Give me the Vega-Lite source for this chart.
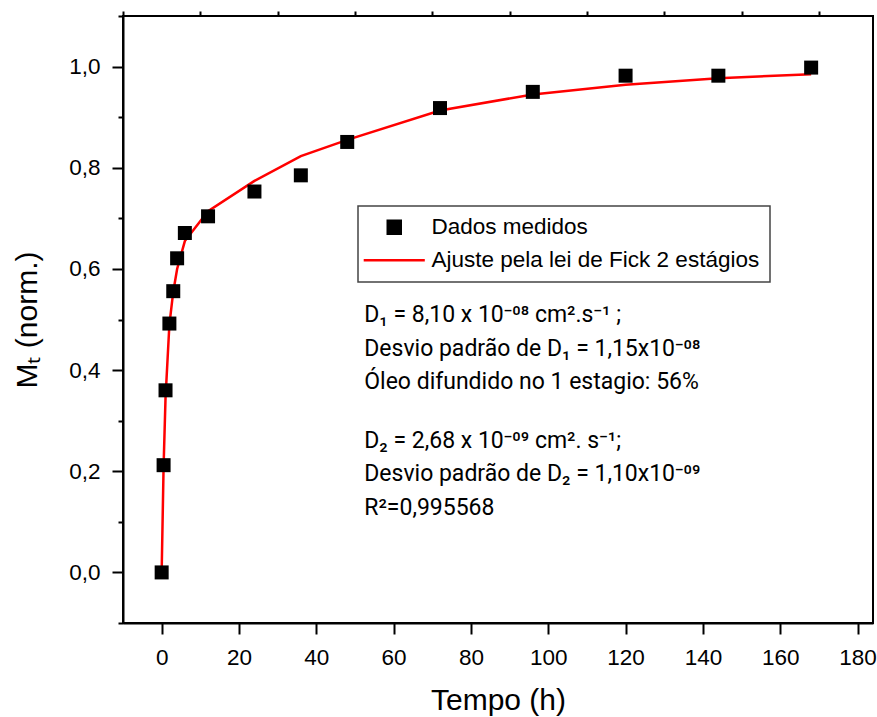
{
  "$schema": "https://vega.github.io/schema/vega-lite/v6.json",
  "width": 750,
  "height": 607,
  "autosize": {"type": "none"},
  "padding": {"left": 123, "top": 16, "right": 4, "bottom": 94},
  "background": "white",
  "config": {
    "font": "Liberation Sans",
    "view": {"stroke": "black", "strokeWidth": 2},
    "axis": {
      "grid": false,
      "domainColor": "black",
      "domainWidth": 2,
      "tickColor": "black",
      "tickWidth": 2,
      "labelColor": "black",
      "titleColor": "black",
      "labelFont": "Liberation Sans",
      "titleFont": "Liberation Sans",
      "labelFontSize": 22.5,
      "titleFontSize": 30,
      "titleFontWeight": "normal",
      "labelOverlap": false,
      "labelFlush": false
    }
  },
  "resolve": {"axis": {"x": "independent"}},
  "layer": [
    {
      "data": {
        "values": [
          {"t": 0, "m": 0, "serie": "Ajuste pela lei de Fick 2 estágios"},
          {"t": 0.5, "m": 0.21, "serie": "Ajuste pela lei de Fick 2 estágios"},
          {"t": 1, "m": 0.345, "serie": "Ajuste pela lei de Fick 2 estágios"},
          {"t": 2, "m": 0.49, "serie": "Ajuste pela lei de Fick 2 estágios"},
          {"t": 3, "m": 0.555, "serie": "Ajuste pela lei de Fick 2 estágios"},
          {"t": 4, "m": 0.6, "serie": "Ajuste pela lei de Fick 2 estágios"},
          {"t": 6, "m": 0.655, "serie": "Ajuste pela lei de Fick 2 estágios"},
          {"t": 12, "m": 0.714, "serie": "Ajuste pela lei de Fick 2 estágios"},
          {"t": 24, "m": 0.774, "serie": "Ajuste pela lei de Fick 2 estágios"},
          {"t": 36, "m": 0.823, "serie": "Ajuste pela lei de Fick 2 estágios"},
          {"t": 48, "m": 0.855, "serie": "Ajuste pela lei de Fick 2 estágios"},
          {"t": 72, "m": 0.913, "serie": "Ajuste pela lei de Fick 2 estágios"},
          {"t": 96, "m": 0.945, "serie": "Ajuste pela lei de Fick 2 estágios"},
          {"t": 120, "m": 0.964, "serie": "Ajuste pela lei de Fick 2 estágios"},
          {"t": 144, "m": 0.977, "serie": "Ajuste pela lei de Fick 2 estágios"},
          {"t": 168, "m": 0.985, "serie": "Ajuste pela lei de Fick 2 estágios"}
        ]
      },
      "mark": {"type": "line", "strokeWidth": 2.5},
      "encoding": {
        "x": {
          "field": "t",
          "type": "quantitative",
          "scale": {"domain": [-10, 184], "nice": false, "zero": false},
          "axis": {
            "title": "Tempo (h)",
            "values": [0, 20, 40, 60, 80, 100, 120, 140, 160, 180],
            "tickSize": 11,
            "labelPadding": 12,
            "titlePadding": 17
          }
        },
        "y": {
          "field": "m",
          "type": "quantitative",
          "scale": {"domain": [-0.1, 1.1], "nice": false, "zero": false},
          "axis": {
            "title": "Mₜ (norm.)",
            "values": [-0.1, 0, 0.1, 0.2, 0.3, 0.4, 0.5, 0.6, 0.7, 0.8, 0.9, 1, 1.1],
            "tickSize": {"condition": {"test": "abs(round(datum.value*10)) % 2 === 1", "value": 5}, "value": 11},
            "labelExpr": "abs(round(datum.value*10)) % 2 === 0 ? replace(format(datum.value, '.1f'), '.', ',') : ''",
            "labelPadding": 12,
            "titlePadding": 26
          }
        },
        "color": {
          "field": "serie",
          "type": "nominal",
          "scale": {"domain": ["Dados medidos", "Ajuste pela lei de Fick 2 estágios"], "range": ["#000000", "#ff0000"]},
          "legend": {
            "orient": "none",
            "legendX": 235,
            "legendY": 190,
            "title": null,
            "padding": 10,
            "rowPadding": 10,
            "symbolOffset": 15,
            "labelOffset": 26,
            "labelFontSize": 22.5,
            "labelFont": "Liberation Sans",
            "labelColor": "black",
            "labelLimit": 500,
            "strokeColor": "#444444",
            "fillColor": "white",
            "symbolSize": 169,
            "encode": {
              "legend": {"update": {"strokeWidth": {"value": 1.5}}},
              "symbols": {
                "update": {
                  "stroke": {"signal": "datum.value === 'Dados medidos' ? 'transparent' : '#ff0000'"},
                  "strokeWidth": {"value": 2.5},
                  "opacity": {"value": 1}
                }
              }
            }
          }
        }
      }
    },
    {
      "data": {
        "values": [
          {"t": 0, "m": 0, "serie": "Dados medidos"},
          {"t": 0.5, "m": 0.212, "serie": "Dados medidos"},
          {"t": 1, "m": 0.36, "serie": "Dados medidos"},
          {"t": 2, "m": 0.492, "serie": "Dados medidos"},
          {"t": 3, "m": 0.556, "serie": "Dados medidos"},
          {"t": 4, "m": 0.621, "serie": "Dados medidos"},
          {"t": 6, "m": 0.671, "serie": "Dados medidos"},
          {"t": 12, "m": 0.704, "serie": "Dados medidos"},
          {"t": 24, "m": 0.753, "serie": "Dados medidos"},
          {"t": 36, "m": 0.785, "serie": "Dados medidos"},
          {"t": 48, "m": 0.851, "serie": "Dados medidos"},
          {"t": 72, "m": 0.918, "serie": "Dados medidos"},
          {"t": 96, "m": 0.95, "serie": "Dados medidos"},
          {"t": 120, "m": 0.982, "serie": "Dados medidos"},
          {"t": 144, "m": 0.982, "serie": "Dados medidos"},
          {"t": 168, "m": 0.998, "serie": "Dados medidos"}
        ]
      },
      "mark": {"type": "point", "filled": true, "size": 196, "opacity": 1},
      "encoding": {
        "x": {
          "field": "t",
          "type": "quantitative",
          "axis": {
            "title": null,
            "values": [-10, 10, 30, 50, 70, 90, 110, 130, 150, 170],
            "tickSize": 5,
            "labels": false,
            "domain": false
          }
        },
        "y": {"field": "m", "type": "quantitative"},
        "color": {"field": "serie", "type": "nominal"},
        "shape": {
          "field": "serie",
          "type": "nominal",
          "scale": {"domain": ["Dados medidos", "Ajuste pela lei de Fick 2 estágios"], "range": ["square", "M-4.7,0H4.7"]},
          "legend": {
            "orient": "none",
            "legendX": 235,
            "legendY": 190,
            "title": null
          }
        }
      }
    },
    {
      "data": {"values": [{"bloco": "D1"}]},
      "mark": {
        "type": "text",
        "align": "left",
        "baseline": "alphabetic",
        "fontSize": 23,
        "font": "Roboto",
        "color": "black",
        "lineHeight": 33.5,
        "text": ["D₁ = 8,10 x 10⁻⁰⁸ cm².s⁻¹ ;", "Desvio padrão de D₁ = 1,15x10⁻⁰⁸", "Óleo difundido no 1 estagio: 56%"]
      },
      "encoding": {
        "x": {"datum": 52.4, "type": "quantitative", "axis": null},
        "y": {"datum": 0.495, "type": "quantitative"}
      }
    },
    {
      "data": {"values": [{"bloco": "D2"}]},
      "mark": {
        "type": "text",
        "align": "left",
        "baseline": "alphabetic",
        "fontSize": 23,
        "font": "Roboto",
        "color": "black",
        "lineHeight": 33.5,
        "text": ["D₂ = 2,68 x 10⁻⁰⁹ cm². s⁻¹;", "Desvio padrão de D₂ = 1,10x10⁻⁰⁹", "R²=0,995568"]
      },
      "encoding": {
        "x": {"datum": 52.4, "type": "quantitative", "axis": null},
        "y": {"datum": 0.246, "type": "quantitative"}
      }
    }
  ]
}
